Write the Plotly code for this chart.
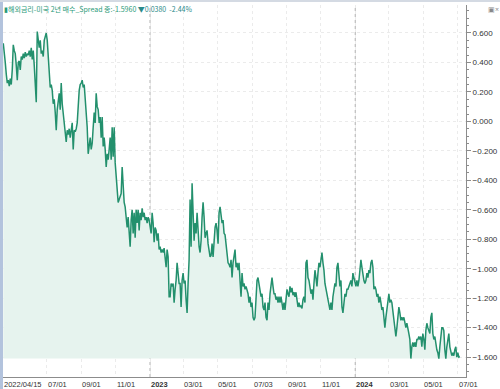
import pandas as pd
import plotly.graph_objects as go

# ---- data ----
start_date = "2022-04-15"
end_date = "2024-07-05"
spread = [
    0.53, 0.48, 0.40, 0.32, 0.26, 0.28, 0.24, 0.29, 0.25, 0.35,
    0.52, 0.48, 0.46, 0.38, 0.28, 0.40, 0.41, 0.35, 0.44, 0.42,
    0.46, 0.43, 0.47, 0.44, 0.46, 0.45, 0.48, 0.44, 0.50, 0.42,
    0.48, 0.38, 0.23, 0.13, 0.61, 0.55, 0.50, 0.55, 0.46, 0.48,
    0.44, 0.55, 0.58, 0.60, 0.55, 0.42, 0.28, 0.23, 0.25, 0.21,
    0.12, 0.15, 0.06, -0.06, 0.08, 0.15, 0.19, 0.08, 0.26, 0.12,
    0.06, -0.01, -0.06, -0.14, -0.06, -0.09, -0.05, -0.11, -0.06, -0.01,
    -0.19, -0.06, -0.07, -0.05, -0.01, 0.15, 0.21, 0.25, 0.26, 0.28,
    0.23, 0.25, 0.15, 0.01, -0.04, -0.22, -0.15, -0.11, -0.19, -0.15,
    -0.04, 0.06, -0.01, 0.19, 0.10, 0.08, -0.01, 0.03, -0.11, 0.03,
    -0.17, -0.11, -0.19, -0.31, -0.22, -0.26, -0.19, -0.11, -0.26, -0.04,
    -0.24, -0.04, -0.28, -0.38, -0.49, -0.55, -0.53, -0.51, -0.49, -0.31,
    -0.49, -0.55, -0.58, -0.65, -0.72, -0.65, -0.79, -0.85, -0.67, -0.60,
    -0.76, -0.62, -0.79, -0.60, -0.69, -0.60, -0.74, -0.62, -0.67, -0.59,
    -0.65, -0.62, -0.67, -0.65, -0.69, -0.65, -0.67, -0.74, -0.76, -0.62,
    -0.69, -0.82, -0.72, -0.74, -0.81, -0.76, -0.87, -0.85, -0.89, -0.87,
    -0.89, -0.86, -0.92, -0.99, -0.87, -0.92, -1.19, -1.19, -1.10, -1.12,
    -1.10, -1.23, -1.14, -1.08, -0.96, -1.06, -1.10, -1.10, -1.26, -1.08,
    -1.03, -1.10, -1.08, -1.21, -1.30, -1.10, -0.94, -0.53, -0.85, -0.42,
    -0.60, -0.81, -0.69, -0.76, -0.62, -0.76, -0.85, -0.89, -0.81, -0.65,
    -0.55, -0.65, -0.79, -0.76, -0.74, -0.83, -0.89, -0.92, -0.91, -0.83,
    -0.92, -0.76, -0.72, -0.69, -0.74, -0.83, -0.62, -0.58, -0.65, -0.69,
    -0.67, -0.76, -0.77, -0.84, -0.91, -0.96, -0.97, -0.99, -0.94, -1.06,
    -0.96, -0.92, -0.87, -0.99, -0.96, -1.01, -0.96, -1.08, -1.19, -1.03,
    -1.12, -1.10, -1.14, -1.12, -1.14, -1.17, -1.23, -1.19, -1.26, -1.23,
    -1.33, -1.35, -1.33, -1.17, -1.08, -1.06, -1.10, -1.12, -1.19, -1.17,
    -1.26, -1.28, -1.23, -1.33, -1.35, -1.23, -1.28, -1.17, -1.10, -1.06,
    -1.12, -1.17, -1.17, -1.21, -1.19, -1.23, -1.19, -1.23, -1.19, -1.26,
    -1.28, -1.23, -1.28, -1.21, -1.14, -1.17, -1.19, -1.12, -1.16, -1.13,
    -1.18, -1.16, -1.19, -1.16, -1.21, -1.26, -1.23, -1.26, -1.25, -1.27,
    -1.21, -1.19, -1.23, -0.96, -0.94, -1.06, -1.08, -1.12, -1.17, -1.14,
    -1.21, -1.10, -1.01, -1.06, -1.12, -1.03, -0.96, -0.99, -0.92, -0.89,
    -0.96, -1.01, -1.10, -1.14, -1.17, -1.19, -1.23, -1.28, -1.23, -1.28,
    -1.19, -1.12, -1.10, -1.12, -0.99, -0.96, -1.08, -1.12, -1.08, -1.26,
    -1.30, -1.23, -1.17, -1.19, -1.14, -1.14, -1.12, -1.10, -1.08, -1.12,
    -1.03, -1.06, -1.10, -1.12, -1.08, -1.12, -1.08, -0.99, -0.94, -0.99,
    -1.06, -1.08, -1.10, -1.08, -1.03, -1.06, -1.01, -1.03, -0.96, -0.94,
    -0.99, -1.14, -1.12, -1.14, -1.19, -1.17, -1.23, -1.19, -1.23, -1.28,
    -1.26, -1.33, -1.40, -1.33, -1.26, -1.19, -1.17, -1.23, -1.21, -1.23,
    -1.28, -1.35, -1.40, -1.46, -1.40, -1.33, -1.26, -1.30, -1.35, -1.33,
    -1.35, -1.33, -1.37, -1.40, -1.37, -1.42, -1.44, -1.48, -1.61, -1.53,
    -1.50, -1.53, -1.50, -1.53, -1.48, -1.48, -1.46, -1.48, -1.46, -1.53,
    -1.44, -1.48, -1.55, -1.42, -1.37, -1.40, -1.42, -1.44, -1.33, -1.30,
    -1.44, -1.48, -1.46, -1.53, -1.55, -1.57, -1.61, -1.53, -1.46, -1.40,
    -1.40, -1.42, -1.55, -1.61, -1.53, -1.46, -1.44, -1.53, -1.57, -1.59,
    -1.57, -1.59, -1.55, -1.53, -1.60, -1.57, -1.60, -1.596,
]
tick_dates = ["2022-04-15", "2022-07-01", "2022-09-01", "2022-11-01", "2023-01-01",
              "2023-03-01", "2023-05-01", "2023-07-03", "2023-09-01", "2023-11-01",
              "2024-01-01", "2024-03-01", "2024-05-01", "2024-07-01"]
tick_labels = ["2022/04/15", "07/01", "09/01", "11/01", "<b>2023</b>",
               "03/01", "05/01", "07/03", "09/01", "11/01",
               "<b>2024</b>", "03/01", "05/01", "07/01"]
year_marks = ["2023-01-01", "2024-01-01"]
title_main = "▮해외금리-미국 2년 매수_Spread 종:-1.5960"
title_change = "▼0.0380  -2.44%"

dates = pd.date_range(start_date, end_date, periods=len(spread))
base = min(spread)

LINE = "#23906d"
FILL = "#e6f3ee"
TXT = "#333333"
FONT = "Liberation Sans"

fig = go.Figure()
fig.add_trace(go.Scatter(x=dates, y=[base] * len(spread), mode="lines",
                         line=dict(width=0), hoverinfo="skip", showlegend=False))
fig.add_trace(go.Scatter(x=dates, y=spread, mode="lines", fill="tonexty",
                         fillcolor=FILL, line=dict(color=LINE, width=1.5),
                         showlegend=False))

PW, PH = 463, 372
shapes = []
for d in year_marks:
    shapes.append(dict(type="line", xref="x", yref="paper", x0=d, x1=d, y0=0, y1=1,
                       line=dict(color="#b0b0b0", width=1, dash="dot"), layer="below"))
# left blue strip and top border of the window
shapes.append(dict(type="rect", xref="paper", yref="paper", x0=-3 / PW, x1=0,
                   y0=-12 / PH, y1=1 + 5 / PH, fillcolor="#b3c3dd", line=dict(width=0)))
shapes.append(dict(type="rect", xref="paper", yref="paper", x0=-3 / PW, x1=1 + 34 / PW,
                   y0=1 + 3 / PH, y1=1 + 5 / PH, fillcolor="#d4dae3", line=dict(width=0)))

annotations = []
for d, lab in zip(tick_dates, tick_labels):
    annotations.append(dict(x=d, y=0, xref="x", yref="paper", text=lab, showarrow=False,
                            xanchor="left", yanchor="top", yshift=-1, xshift=-1,
                            font=dict(size=7.5, color=TXT, family=FONT)))
annotations.append(dict(x=0, y=1, xref="paper", yref="paper", xanchor="left", yanchor="top",
                        yshift=3, xshift=-1, showarrow=False,
                        text=f"<span style='color:#2a9a78'>{title_main}</span> "
                             f"<span style='color:#2a8a8a'>{title_change}</span>",
                        font=dict(size=7, family="Noto Sans CJK KR")))
annotations.append(dict(x=1, y=1, xref="paper", yref="paper", xanchor="left", yanchor="top",
                        xshift=20, yshift=2, showarrow=False, text="▣×",
                        font=dict(size=7, color="#888888")))

fig.update_layout(
    width=500, height=389,
    margin=dict(l=3, r=34, t=5, b=12),
    paper_bgcolor="white", plot_bgcolor="white",
    shapes=shapes, annotations=annotations,
    xaxis=dict(type="date", range=["2022-04-14 12:00", "2024-07-16"],
               tickvals=tick_dates[1:], showticklabels=False,
               showgrid=True, gridcolor="#ebebeb", griddash="dot", gridwidth=1,
               showline=True, linecolor="#8c8c8c", linewidth=1,
               ticks="", zeroline=False, fixedrange=True),
    yaxis=dict(side="right", range=[-1.735, 0.79], dtick=0.2, tick0=0,
               tickformat=".3f", showgrid=True, gridcolor="#ebebeb", griddash="dot",
               showline=True, linecolor="#8c8c8c", linewidth=1,
               ticks="outside", ticklen=4, tickcolor="#8c8c8c",
               minor=dict(ticks="outside", ticklen=2, dtick=0.05, tickcolor="#8c8c8c",
                          showgrid=False),
               tickfont=dict(size=8, color=TXT, family=FONT),
               zeroline=False, fixedrange=True),
)

fig.write_html("out.html")
